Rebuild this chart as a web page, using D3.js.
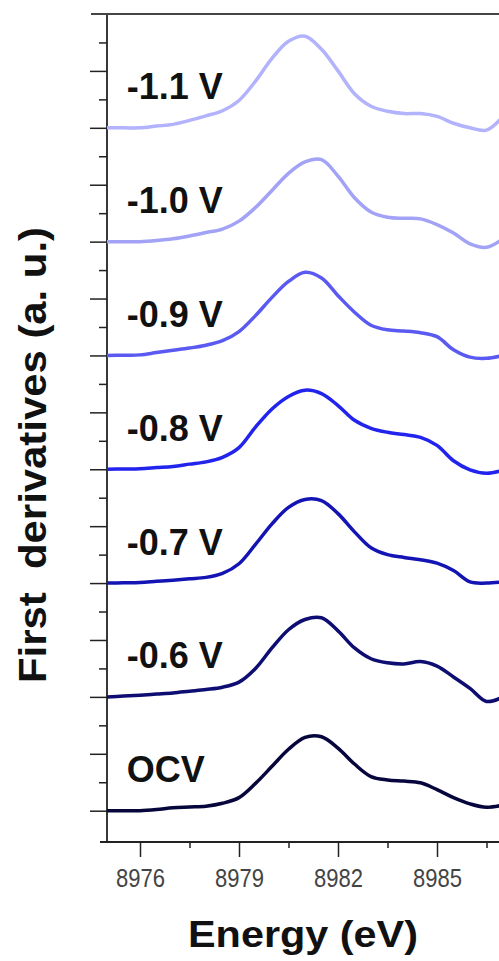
<!DOCTYPE html>
<html lang="en">

<head>
    <meta charset="UTF-8">
    <title>First derivatives</title>
    <style>
        body {
            margin: 0;
            background: #fff;
        }
    </style>
</head>

<body>

    <!-- Load d3.js -->
    <script src="https://d3js.org/d3.v7.min.js"></script>

    <div id="chart"></div>
    <script>
        // energy grid (eV), 0.5 eV steps, shared by all spectra
        var energy = [8975, 8975.5, 8976, 8976.5, 8977, 8977.5, 8978, 8978.5, 8979, 8979.5, 8980,
            8980.5, 8981, 8981.5, 8982, 8982.5, 8983, 8983.5, 8984, 8984.5, 8985, 8985.5,
            8986, 8986.5, 8987];

        // first derivative values, relative to each curve's own baseline
        var ocv = [0, 0, 0.0, 0.02, 0.05, 0.065, 0.08, 0.13, 0.23, 0.48, 0.78,
            1.08, 1.29, 1.30, 1.10, 0.82, 0.60, 0.54, 0.52, 0.49, 0.37, 0.23,
            0.12, 0.06, 0.10];
        var v06 = [0, 0.015, 0.03, 0.05, 0.07, 0.10, 0.13, 0.17, 0.26, 0.50, 0.86,
            1.18, 1.36, 1.39, 1.16, 0.86, 0.67, 0.60, 0.58, 0.62, 0.54, 0.35,
            0.15, -0.08, 0.0];
        var v07 = [0, 0.005, 0.01, 0.03, 0.05, 0.075, 0.10, 0.17, 0.34, 0.68, 1.04,
            1.33, 1.47, 1.45, 1.22, 0.90, 0.62, 0.50, 0.45, 0.41, 0.35, 0.22,
            0.02, 0.0, 0.02];
        var v08 = [0, 0.005, 0.01, 0.03, 0.05, 0.09, 0.13, 0.21, 0.38, 0.74, 1.06,
            1.28, 1.39, 1.33, 1.12, 0.86, 0.72, 0.65, 0.61, 0.56, 0.42, 0.15,
            -0.01, -0.07, -0.02];
        var v09 = [0, 0.005, 0.01, 0.05, 0.09, 0.13, 0.18, 0.26, 0.42, 0.70, 1.02,
            1.30, 1.46, 1.36, 1.05, 0.76, 0.53, 0.45, 0.43, 0.40, 0.33, 0.10,
            -0.03, -0.05, 0.0];
        var v10 = [0, 0, 0.0, 0.02, 0.05, 0.10, 0.16, 0.22, 0.36, 0.60, 0.90,
            1.20, 1.40, 1.44, 1.15, 0.77, 0.52, 0.43, 0.41, 0.40, 0.30, 0.15,
            -0.04, -0.10, 0.05];
        var v11 = [0, 0, 0.0, 0.03, 0.06, 0.13, 0.21, 0.30, 0.48, 0.82, 1.22,
            1.52, 1.61, 1.38, 1.00, 0.60, 0.38, 0.29, 0.25, 0.25, 0.20, 0.08,
            0.0, -0.04, 0.20];

        var seriesNames = ["OCV", "-0.6 V", "-0.7 V", "-0.8 V", "-0.9 V", "-1.0 V", "-1.1 V"];
        var seriesValues = [ocv, v06, v07, v08, v09, v10, v11];
        var offsets = [0, 2, 4, 6, 8, 10, 12];
        var colors = ["#06063c", "#0d0d72", "#1414b4", "#2323ee", "#5a5af2", "#a2a2f6", "#b2b2fd"];

        var xTicks = [8976, 8979, 8982, 8985];
        var xMinorTicks = [8977.5, 8980.5, 8983.5, 8986.5];
        var yTicks = d3.range(0, 14, 1);
        var yMinorTicks = d3.range(0.5, 14, 1);

        var W = 499, H = 961;
        var font = "'Liberation Sans', Arial, sans-serif";

        var svg = d3.select("#chart")
            .append("svg")
            .attr("width", W)
            .attr("height", H);

        var x = d3.scaleLinear().domain([8975, 8987]).range([107, 503]);
        var y = d3.scaleLinear().domain([-0.55, 14]).range([842, 14]);

        // clip for the curves
        svg.append("clipPath").attr("id", "clip")
            .append("rect")
            .attr("x", x(8975)).attr("y", y(14))
            .attr("width", W - x(8975)).attr("height", y(-0.55) - y(14));

        // y ticks (major + minor)
        svg.append("g")
            .attr("transform", "translate(" + x(8975) + ",0)")
            .call(d3.axisLeft(y).tickValues(yTicks).tickSize(17).tickFormat(""))
            .call(g => g.select(".domain").remove())
            .selectAll("line").attr("stroke", "#222").attr("stroke-width", 1.5);
        svg.append("g")
            .attr("transform", "translate(" + x(8975) + ",0)")
            .call(d3.axisLeft(y).tickValues(yMinorTicks).tickSize(8).tickFormat(""))
            .call(g => g.select(".domain").remove())
            .selectAll("line").attr("stroke", "#222").attr("stroke-width", 1.5);

        // x ticks (major + minor)
        var xAxis = svg.append("g")
            .attr("transform", "translate(0," + y(-0.55) + ")")
            .call(d3.axisBottom(x).tickValues(xTicks).tickSize(15).tickFormat(d3.format("d")));
        xAxis.select(".domain").remove();
        xAxis.selectAll("line").attr("stroke", "#222").attr("stroke-width", 1.5);
        xAxis.selectAll("text")
            .attr("y", 45)
            .attr("dy", null)
            .attr("fill", "#444")
            .style("font-family", font)
            .style("font-size", "25px")
            .attr("textLength", 49)
            .attr("lengthAdjust", "spacingAndGlyphs");
        svg.append("g")
            .attr("transform", "translate(0," + y(-0.55) + ")")
            .call(d3.axisBottom(x).tickValues(xMinorTicks).tickSize(6).tickFormat(""))
            .call(g => g.select(".domain").remove())
            .selectAll("line").attr("stroke", "#222").attr("stroke-width", 1.5);

        // frame lines
        svg.append("line")
            .attr("x1", x(8975)).attr("x2", x(8975))
            .attr("y1", y(14)).attr("y2", y(-0.55))
            .attr("stroke", "#222").attr("stroke-width", 1.8);
        svg.append("line")
            .attr("x1", 91).attr("x2", W)
            .attr("y1", y(14)).attr("y2", y(14))
            .attr("stroke", "#444").attr("stroke-width", 2);
        svg.append("line")
            .attr("x1", 100).attr("x2", W)
            .attr("y1", y(-0.55)).attr("y2", y(-0.55))
            .attr("stroke", "#222").attr("stroke-width", 1.8);

        // the curves
        var line = d3.line()
            .x(function (d) { return x(d[0]) })
            .y(function (d) { return y(d[1]) })
            .curve(d3.curveCatmullRom.alpha(0.5));

        seriesValues.forEach(function (vals, i) {
            var pts = energy.map(function (e, k) { return [e, vals[k] + offsets[i]]; });
            svg.append("path")
                .datum(pts)
                .attr("clip-path", "url(#clip)")
                .attr("fill", "none")
                .attr("stroke", colors[i])
                .attr("stroke-width", 3.5)
                .attr("stroke-linejoin", "round")
                .attr("d", line);

            svg.append("text")
                .attr("x", x(8975.6))
                .attr("y", y(offsets[i] + 0.5))
                .attr("fill", "#111")
                .style("font-family", font)
                .style("font-weight", "bold")
                .style("font-size", "36px")
                .text(seriesNames[i]);
        });

        // axis titles
        svg.append("text")
            .attr("x", 303)
            .attr("y", 947)
            .attr("text-anchor", "middle")
            .attr("fill", "#111")
            .style("font-family", font)
            .style("font-weight", "bold")
            .style("font-size", "36px")
            .attr("textLength", 230)
            .attr("lengthAdjust", "spacingAndGlyphs")
            .text("Energy (eV)");

        svg.append("text")
            .attr("transform", "translate(46,455) rotate(-90)")
            .attr("text-anchor", "middle")
            .attr("fill", "#111")
            .style("font-family", font)
            .style("font-weight", "bold")
            .style("font-size", "39px")
            .style("white-space", "pre")
            .attr("textLength", 456)
            .attr("lengthAdjust", "spacingAndGlyphs")
            .text("First  derivatives (a. u.)");
    </script>
</body>

</html>
